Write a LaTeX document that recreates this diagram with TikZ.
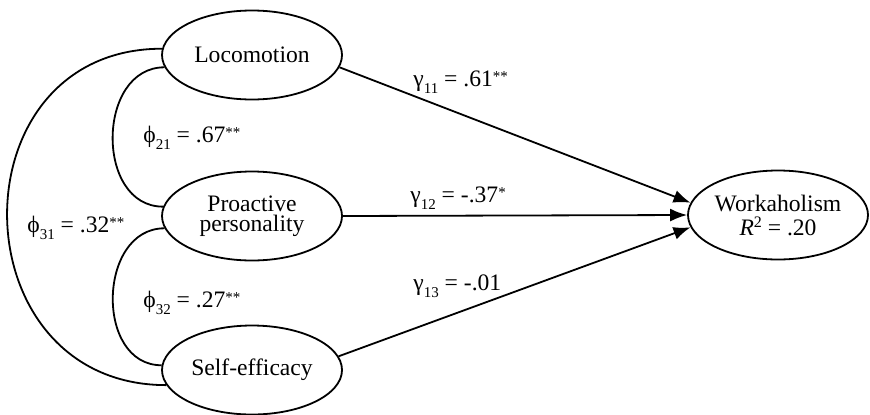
\documentclass[tikz,border=0pt]{standalone}
\usepackage{fontspec}
\setmainfont{Liberation Serif}
\usepackage{tikz}
\usetikzlibrary{positioning, arrows.meta, shapes.geometric}

\newcommand{\lowix}[1]{\raisebox{-3.7pt}{\fontsize{7.5pt}{7.5pt}\selectfont #1}}
\newcommand{\sigmark}[1]{\raisebox{2.4pt}{\fontsize{7.5pt}{7.5pt}\selectfont #1}}

\tikzset{
  latent/.style={draw, ellipse, line width=0.9pt, minimum width=90pt,
                 minimum height=44.5pt, inner sep=0pt, align=center},
  effect/.style={-{Latex[length=8.5pt,width=6.5pt]}, line width=0.9pt},
  cov/.style={line width=0.9pt},
  coef/.style={anchor=base west, inner sep=0pt},
}

\begin{document}
\begin{tikzpicture}[x=0.5pt, y=0.5pt, font=\fontsize{11.8pt}{13pt}\selectfont]
    \useasboundingbox (0,0) rectangle (870,414);

    % latent variables
    \node[latent, font=\fontsize{11.8pt}{10pt}\selectfont] (proac) at (252,198) {Proactive\\personality};
    \node[latent] (loco) at (252,359) {Locomotion};
    \node[latent] (self) at (252,44) {Self-efficacy};
    \node[latent, font=\fontsize{11.8pt}{12pt}\selectfont] (work) at (778,199)
      {Workaholism\\\textit{R}\raisebox{4pt}{\fontsize{8pt}{8pt}\selectfont 2} = .20};

    % paths
    \draw[effect] (loco.-8) -- (work.172);
    \draw[effect] (proac.east) -- (work.west);
    \draw[effect] (self.9) -- (work.188);

    % covariances
    \draw[cov] (loco.188) to[out=180, in=180, looseness=1.25] (proac.174);
    \draw[cov] (proac.188) to[out=180, in=180, looseness=1.25] (self.177);
    \draw[cov] (loco.176) to[out=180, in=180, looseness=1.59] (self.190);

    % coefficients
    \node[coef] (phi21) at (143,272) {ϕ\lowix{21} = .67\sigmark{**}};
    \node[coef] (phi32) at (143,107) {ϕ\lowix{32} = .27\sigmark{**}};
    \node[coef] (phi31) at (27,182) {ϕ\lowix{31} = .32\sigmark{**}};
    \node[coef] (g11) at (413,328) {γ\lowix{11} = .61\sigmark{**}};
    \node[coef] (g12) at (410,212) {γ\lowix{12} = -.37\sigmark{*}};
    \node[coef] (g13) at (413,124) {γ\lowix{13} = -.01};
\end{tikzpicture}
\end{document}
